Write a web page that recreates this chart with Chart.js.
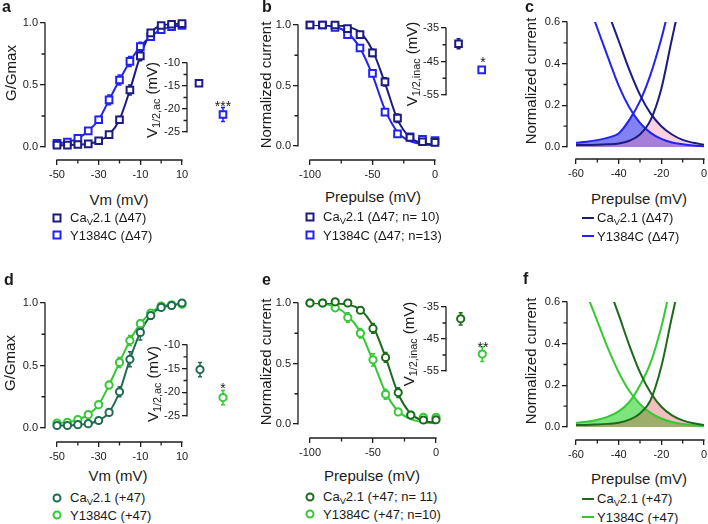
<!DOCTYPE html>
<html><head><meta charset="utf-8">
<script src="https://cdn.jsdelivr.net/npm/chart.js@4.4.1/dist/chart.umd.min.js"></script>
<style>
html,body{margin:0;padding:0;background:#fff;}
body{position:relative;width:708px;height:524px;overflow:hidden;font-family:"Liberation Sans",Arial,Helvetica,sans-serif;color:#1a1a1a;}
canvas{position:absolute;}
.tx{position:absolute;white-space:nowrap;line-height:1;transform:translate(-50%,-50%);z-index:5;font-size:15px;}
.rot{transform:translate(-50%,-50%) rotate(-90deg);}
.lab{position:absolute;white-space:nowrap;line-height:1;transform:translateY(-50%);font-size:13px;z-index:5;}
.sb{font-size:0.72em;position:relative;top:0.32em;}
.mk{position:absolute;transform:translate(-50%,-50%);box-sizing:border-box;z-index:5;background:#fff;}
.pl{position:absolute;font-weight:bold;font-size:16px;line-height:1;transform:translateY(-50%);z-index:5;}
.st{position:absolute;line-height:1;transform:translate(-50%,-50%);font-size:14px;z-index:5;}
</style></head><body>
<script>
// ================= DATA =================
// Activation (G/Gmax vs Vm)
const vmSteps = [-50,-45,-40,-35,-30,-25,-20,-15,-10,-5,0,5,10];
const actCavDelta   = [0.015,0.015,0.02,0.025,0.05,0.10,0.22,0.46,0.735,0.92,0.98,0.99,0.995];
const actCavDeltaErr= [0.01,0.01,0.01,0.01,0.01,0.015,0.025,0.04,0.04,0.02,0.01,0.01,0.01];
const actYDelta     = [0.03,0.04,0.07,0.13,0.22,0.38,0.54,0.69,0.81,0.89,0.946,0.97,0.98];
const actYDeltaErr  = [0.01,0.01,0.01,0.015,0.025,0.04,0.04,0.04,0.035,0.02,0.01,0.01,0.01];
const actCavPlus    = [0.02,0.02,0.027,0.035,0.06,0.125,0.29,0.55,0.765,0.90,0.965,0.98,1.0];
const actCavPlusErr = [0.01,0.01,0.01,0.01,0.01,0.015,0.04,0.06,0.06,0.03,0.01,0.01,0.01];
const actYPlus      = [0.04,0.045,0.067,0.107,0.187,0.344,0.525,0.70,0.835,0.92,0.975,0.985,0.99];
const actYPlusErr   = [0.01,0.01,0.01,0.015,0.02,0.03,0.04,0.04,0.03,0.02,0.01,0.01,0.01];

// Inactivation (normalized current vs prepulse)
const prepulseSteps = [-100,-90,-80,-70,-60,-50,-40,-30,-20,-10,0];
const inacCavDelta    = [1.0,1.0,1.0,0.97,0.92,0.77,0.53,0.23,0.07,0.035,0.03];
const inacCavDeltaErr = [0.01,0.01,0.01,0.015,0.02,0.03,0.035,0.035,0.02,0.01,0.01];
const inacCavDeltaFit = [1.0,1.0,0.997,0.985,0.94,0.79,0.52,0.22,0.07,0.025,0.012];
const inacYDelta      = [1.0,1.0,0.98,0.92,0.81,0.60,0.28,0.10,0.075,0.055,0.045];
const inacYDeltaErr   = [0.01,0.01,0.01,0.015,0.02,0.025,0.025,0.02,0.01,0.01,0.01];
const inacYDeltaFit   = [1.0,0.997,0.985,0.935,0.81,0.585,0.30,0.115,0.04,0.015,0.007];
const inacCavPlus     = [1.0,1.0,1.01,1.0,0.94,0.79,0.55,0.26,0.074,0.033,0.035];
const inacCavPlusErr  = [0.01,0.01,0.01,0.01,0.015,0.04,0.04,0.04,0.02,0.01,0.01];
const inacCavPlusFit  = [1.0,1.0,0.997,0.985,0.945,0.81,0.55,0.25,0.085,0.028,0.01];
const inacYPlus       = [1.0,1.0,0.96,0.88,0.75,0.53,0.245,0.10,0.074,0.055,0.055];
const inacYPlusErr    = [0.01,0.01,0.015,0.04,0.04,0.05,0.04,0.02,0.01,0.01,0.01];
const inacYPlusFit    = [1.0,0.993,0.968,0.895,0.76,0.52,0.26,0.105,0.04,0.015,0.006];

// Window-current curves (prepulse -60..0)
const windowSteps = [-60,-55,-50,-45,-40,-35,-30,-25,-20,-15,-10,-5,0];
const winActCavDelta  = [0.01,0.01,0.011,0.013,0.017,0.03,0.06,0.13,0.28,0.52,0.74,0.88,0.95];
const winInacCavDelta = [0.91,0.85,0.76,0.645,0.51,0.37,0.25,0.16,0.10,0.06,0.034,0.02,0.011];
const winActYDelta    = [0.02,0.025,0.033,0.045,0.065,0.13,0.22,0.35,0.52,0.72,0.86,0.93,0.97];
const winInacYDelta   = [0.81,0.705,0.57,0.43,0.295,0.19,0.116,0.068,0.039,0.022,0.013,0.007,0.004];
const overlapXCavDelta = [-60,-55,-50,-45,-40,-35,-30,-25,-24.3,-20,-15,-10,-5,0];
const overlapCavDelta  = [0.01,0.01,0.011,0.013,0.017,0.03,0.06,0.13,0.151,0.10,0.06,0.034,0.02,0.011];
const overlapXYDelta   = [-60,-55,-50,-45,-40,-35,-33.3,-30,-25,-20,-15,-10,-5,0];
const overlapYDelta    = [0.02,0.025,0.033,0.045,0.065,0.13,0.163,0.116,0.068,0.039,0.022,0.013,0.007,0.004];

const winActCavPlus   = [0.01,0.01,0.012,0.015,0.02,0.035,0.065,0.13,0.29,0.53,0.75,0.88,0.95];
const winInacCavPlus  = [0.927,0.874,0.793,0.679,0.539,0.392,0.262,0.164,0.097,0.056,0.032,0.018,0.01];
const winActYPlus     = [0.02,0.025,0.035,0.05,0.075,0.12,0.20,0.31,0.48,0.70,0.85,0.93,0.97];
const winInacYPlus    = [0.75,0.637,0.508,0.377,0.263,0.173,0.11,0.068,0.041,0.024,0.0145,0.0086,0.005];
const overlapXCavPlus = [-60,-55,-50,-45,-40,-35,-30,-25,-24.3,-20,-15,-10,-5,0];
const overlapCavPlus  = [0.01,0.01,0.012,0.015,0.02,0.035,0.065,0.13,0.153,0.097,0.056,0.032,0.018,0.01];
const overlapXYPlus   = [-60,-55,-50,-45,-40,-35,-33.2,-30,-25,-20,-15,-10,-5,0];
const overlapYPlus    = [0.02,0.025,0.035,0.05,0.075,0.12,0.15,0.11,0.068,0.041,0.024,0.0145,0.0086,0.005];

// Insets: V1/2 values (mV) [CaV2.1, Y1384C]
const insetGroups = [1, 2];
const v12ActDelta     = [-14.4, -21.2];
const v12ActDeltaErr  = [0.6, 1.5];
const v12InacDelta    = [-39.7, -47.5];
const v12InacDeltaErr = [1.5, 0.8];
const v12ActPlus      = [-15.2, -21.1];
const v12ActPlusErr   = [1.5, 1.5];
const v12InacPlus     = [-38.7, -49.7];
const v12InacPlusErr  = [1.9, 2.3];

// Tick values
const vmTicks = [-50,-30,-10,10], vmMinor = [-40,-20,0];
const preTicks = [-100,-50,0], preMinor = [-75,-25];
const winTicks = [-60,-40,-20,0], winMinor = [-50,-30,-10];
const unitTicks = [0,0.5,1.0], unitMinor = [0.25,0.75];
const winYTicks = [0,0.2,0.4,0.6], winYMinor = [0.1,0.3,0.5];
const v12ActTicks = [-25,-20,-15,-10], v12ActMinor = [-22.5,-17.5,-12.5];
const v12InacTicks = [-55,-45,-35], v12InacMinor = [-50,-40];

// ================= STYLE =================
const COL = {navy:'#1b1b80', blue:'#2222f2', teal:'#1f6b4e', dkgreen:'#1c6a1c', green:'#36c836', axis:'#1e1e1e'};
Chart.defaults.font.family = "'Liberation Sans', Arial, sans-serif";
Chart.defaults.color = '#1a1a1a';

const prismAxes = {
  id: 'prismAxes',
  beforeDatasetsDraw(chart, args, o) {
    const ctx = chart.ctx, a = chart.chartArea, xs = chart.scales.x, ys = chart.scales.y;
    ctx.save();
    ctx.strokeStyle = COL.axis; ctx.lineWidth = 1.3;
    ctx.beginPath();
    ctx.moveTo(a.left, ys.getPixelForValue(o.yLine[1]) - 0.6);
    ctx.lineTo(a.left, ys.getPixelForValue(o.yLine[0]) + 0.6);
    (o.yMinor||[]).forEach(v => { const y = ys.getPixelForValue(v); ctx.moveTo(a.left, y); ctx.lineTo(a.left - 3.5, y); });
    if (o.xLine) {
      ctx.moveTo(xs.getPixelForValue(o.xLine[0]) - 0.6, a.bottom);
      ctx.lineTo(xs.getPixelForValue(o.xLine[1]) + 0.6, a.bottom);
      (o.xMinor||[]).forEach(v => { const x = xs.getPixelForValue(v); ctx.moveTo(x, a.bottom); ctx.lineTo(x, a.bottom + 3.5); });
    }
    ctx.stroke();
    ctx.restore();
  }
};
const errBars = {
  id: 'errBars',
  beforeDatasetsDraw(chart) {
    const ctx = chart.ctx, xs = chart.scales.x, ys = chart.scales.y;
    chart.data.datasets.forEach(ds => {
      if (!ds.errors) return;
      ctx.save(); ctx.strokeStyle = ds.borderColor; ctx.lineWidth = 1.5;
      ctx.beginPath();
      ds.data.forEach((p, j) => {
        const e = ds.errors[j]; if (!e) return;
        const x = xs.getPixelForValue(p.x), y1 = ys.getPixelForValue(p.y - e), y2 = ys.getPixelForValue(p.y + e);
        ctx.moveTo(x, y1); ctx.lineTo(x, y2);
        ctx.moveTo(x - 2, y1); ctx.lineTo(x + 2, y1);
        ctx.moveTo(x - 2, y2); ctx.lineTo(x + 2, y2);
      });
      ctx.stroke(); ctx.restore();
    });
  }
};

const xy = (xa, ya) => xa.map((x, i) => ({x, y: ya[i]}));
function pts(xa, ya, err, color, style) {
  return {data: xy(xa, ya), errors: err, showLine: false, pointStyle: style,
    pointRadius: style === 'rect' ? 4.7 : 3.6, pointBorderWidth: 2, pointBackgroundColor: '#fff',
    pointBorderColor: color, borderColor: color, clip: false, order: 0};
}
function curve(xa, ya, color) {
  return {data: xy(xa, ya), borderColor: color, borderWidth: 2, pointRadius: 0,
    cubicInterpolationMode: 'monotone', fill: false, order: 1};
}
function area(xa, ya, color, order) {
  return {data: xy(xa, ya), borderWidth: 0, borderColor: 'rgba(0,0,0,0)', backgroundColor: color,
    pointRadius: 0, cubicInterpolationMode: 'monotone', fill: 'origin', order};
}

function build(s) {
  const b = s.box, A = s.area;
  const cv = document.createElement('canvas');
  cv.width = b.w; cv.height = b.h;
  Object.assign(cv.style, {left: b.l + 'px', top: b.t + 'px', width: b.w + 'px', height: b.h + 'px'});
  document.body.appendChild(cv);
  const X = s.x, Y = s.y;
  const xPer = (X.p1 - X.p0) / (X.v1 - X.v0);
  const xmin = X.v0 - (X.p0 - A.L) / xPer, xmax = X.v1 + (A.R - X.p1) / xPer;
  const yPer = (Y.p0 - Y.p1) / (Y.v1 - Y.v0);
  const ymin = Y.v0 - (A.B - Y.p0) / yPer, ymax = Y.v1 + (Y.p1 - A.T) / yPer;
  const tickFont = {size: 11};
  const gridOpt = {drawOnChartArea: false, drawTicks: true, tickLength: 5, color: COL.axis, lineWidth: 1.3};
  new Chart(cv, {
    type: 'line',
    data: {datasets: s.datasets},
    plugins: [prismAxes, errBars],
    options: {
      responsive: false, animation: false, devicePixelRatio: 1,
      events: [],
      layout: {padding: {left: 0, top: A.T - b.t, right: b.l + b.w - A.R, bottom: X.display ? 0 : b.t + b.h - A.B}},
      plugins: {legend: {display: false}, tooltip: {enabled: false},
        prismAxes: {yLine: Y.line, yMinor: Y.minor, xLine: X.display ? X.line : null, xMinor: X.minor}},
      scales: {
        x: {type: 'linear', min: xmin, max: xmax, display: X.display,
          afterBuildTicks: sc => { if (X.ticks) sc.ticks = X.ticks.map(v => ({value: v})); },
          afterFit: sc => { sc.height = b.t + b.h - A.B; sc.paddingLeft = 0; sc.paddingRight = 0; },
          grid: gridOpt, border: {display: false},
          ticks: {font: tickFont, color: '#1a1a1a', padding: 3, maxRotation: 0, autoSkip: false, callback: v => String(v)}},
        y: {type: 'linear', min: ymin, max: ymax,
          afterBuildTicks: sc => { sc.ticks = Y.ticks.map(v => ({value: v})); },
          afterFit: sc => { sc.width = A.L - b.l; sc.paddingTop = 0; sc.paddingBottom = 0; },
          grid: gridOpt, border: {display: false},
          ticks: {font: tickFont, color: '#1a1a1a', padding: 2, autoSkip: false, callback: Y.fmt}}
      }
    }
  });
}
const f1 = v => v.toFixed(1), f0 = v => String(v);

// ---- main panels ----
build({box:{l:0,t:0,w:200,h:185}, area:{L:45,T:23,R:182,B:160},
  x:{display:true,v0:-50,p0:57,v1:10,p1:182,ticks:vmTicks,minor:vmMinor,line:[-50,10]},
  y:{v0:0,p0:147,v1:1,p1:23,ticks:unitTicks,minor:unitMinor,line:[0,1],fmt:f1},
  datasets:[pts(vmSteps,actCavDelta,actCavDeltaErr,COL.navy,'rect'), pts(vmSteps,actYDelta,actYDeltaErr,COL.blue,'rect'),
    curve(vmSteps,actCavDelta,COL.navy), curve(vmSteps,actYDelta,COL.blue)]});
build({box:{l:240,t:0,w:215,h:185}, area:{L:298,T:25,R:435,B:160},
  x:{display:true,v0:-100,p0:310,v1:0,p1:435,ticks:preTicks,minor:preMinor,line:[-100,0]},
  y:{v0:0,p0:146,v1:1,p1:25,ticks:unitTicks,minor:unitMinor,line:[0,1],fmt:f1},
  datasets:[pts(prepulseSteps,inacCavDelta,inacCavDeltaErr,COL.navy,'rect'), pts(prepulseSteps,inacYDelta,inacYDeltaErr,COL.blue,'rect'),
    curve(prepulseSteps,inacCavDeltaFit,COL.navy), curve(prepulseSteps,inacYDeltaFit,COL.blue)]});
build({box:{l:500,t:0,w:208,h:185}, area:{L:567,T:22,R:704,B:159},
  x:{display:true,v0:-60,p0:576,v1:0,p1:704,ticks:winTicks,minor:winMinor,line:[-60,0]},
  y:{v0:0,p0:147,v1:0.6,p1:22,ticks:winYTicks,minor:winYMinor,line:[0,0.6],fmt:f1},
  datasets:[curve(windowSteps,winActCavDelta,COL.navy), curve(windowSteps,winInacCavDelta,COL.navy),
    curve(windowSteps,winActYDelta,COL.blue), curve(windowSteps,winInacYDelta,COL.blue),
    area(overlapXCavDelta,overlapCavDelta,'rgba(235,120,170,0.35)',5), area(overlapXYDelta,overlapYDelta,'rgba(40,40,235,0.58)',6)]});
build({box:{l:0,t:280,w:200,h:185}, area:{L:45,T:303,R:182,B:442},
  x:{display:true,v0:-50,p0:57,v1:10,p1:182,ticks:vmTicks,minor:vmMinor,line:[-50,10]},
  y:{v0:0,p0:428,v1:1,p1:303,ticks:unitTicks,minor:unitMinor,line:[0,1],fmt:f1},
  datasets:[pts(vmSteps,actCavPlus,actCavPlusErr,COL.teal,'circle'), pts(vmSteps,actYPlus,actYPlusErr,COL.green,'circle'),
    curve(vmSteps,actCavPlus,COL.teal), curve(vmSteps,actYPlus,COL.green)]});
build({box:{l:240,t:280,w:215,h:185}, area:{L:298,T:303,R:436,B:438},
  x:{display:true,v0:-100,p0:310,v1:0,p1:436,ticks:preTicks,minor:preMinor,line:[-100,0]},
  y:{v0:0,p0:424,v1:1,p1:303,ticks:unitTicks,minor:unitMinor,line:[0,1],fmt:f1},
  datasets:[pts(prepulseSteps,inacCavPlus,inacCavPlusErr,COL.dkgreen,'circle'), pts(prepulseSteps,inacYPlus,inacYPlusErr,COL.green,'circle'),
    curve(prepulseSteps,inacCavPlusFit,COL.dkgreen), curve(prepulseSteps,inacYPlusFit,COL.green)]});
build({box:{l:500,t:280,w:208,h:185}, area:{L:567,T:302,R:704,B:440},
  x:{display:true,v0:-60,p0:576,v1:0,p1:704,ticks:winTicks,minor:winMinor,line:[-60,0]},
  y:{v0:0,p0:427,v1:0.6,p1:302,ticks:winYTicks,minor:winYMinor,line:[0,0.6],fmt:f1},
  datasets:[curve(windowSteps,winActCavPlus,COL.dkgreen), curve(windowSteps,winInacCavPlus,COL.dkgreen),
    curve(windowSteps,winActYPlus,COL.green), curve(windowSteps,winInacYPlus,COL.green),
    area(overlapXCavPlus,overlapCavPlus,'rgba(220,70,70,0.35)',5), area(overlapXYPlus,overlapYPlus,'rgba(40,210,40,0.6)',6)]});

// ---- insets ----
build({box:{l:140,t:50,w:110,h:100}, area:{L:187,T:63,R:235,B:141},
  x:{display:false,v0:1,p0:199,v1:2,p1:223},
  y:{v0:-25,p0:141,v1:-10,p1:63,ticks:v12ActTicks,minor:v12ActMinor,line:[-25,-10],fmt:f0},
  datasets:[pts([insetGroups[0]],[v12ActDelta[0]],[v12ActDeltaErr[0]],COL.navy,'rect'), pts([insetGroups[1]],[v12ActDelta[1]],[v12ActDeltaErr[1]],COL.blue,'rect')]});
build({box:{l:400,t:15,w:100,h:100}, area:{L:446,T:28,R:495,B:105},
  x:{display:false,v0:1,p0:459,v1:2,p1:483},
  y:{v0:-55,p0:105,v1:-35,p1:28,ticks:v12InacTicks,minor:v12InacMinor,line:[-55,-35],fmt:f0},
  datasets:[pts([insetGroups[0]],[v12InacDelta[0]],[v12InacDeltaErr[0]],COL.navy,'rect'), pts([insetGroups[1]],[v12InacDelta[1]],[v12InacDeltaErr[1]],COL.blue,'rect')]});
build({box:{l:140,t:330,w:110,h:100}, area:{L:187,T:345,R:235,B:423},
  x:{display:false,v0:1,p0:200,v1:2,p1:223},
  y:{v0:-25,p0:423,v1:-10,p1:345,ticks:v12ActTicks,minor:v12ActMinor,line:[-25,-10],fmt:f0},
  datasets:[pts([insetGroups[0]],[v12ActPlus[0]],[v12ActPlusErr[0]],COL.teal,'circle'), pts([insetGroups[1]],[v12ActPlus[1]],[v12ActPlusErr[1]],COL.green,'circle')]});
build({box:{l:400,t:295,w:100,h:100}, area:{L:446,T:307,R:495,B:383},
  x:{display:false,v0:1,p0:461,v1:2,p1:483},
  y:{v0:-55,p0:383,v1:-35,p1:307,ticks:v12InacTicks,minor:v12InacMinor,line:[-55,-35],fmt:f0},
  datasets:[pts([insetGroups[0]],[v12InacPlus[0]],[v12InacPlusErr[0]],COL.dkgreen,'circle'), pts([insetGroups[1]],[v12InacPlus[1]],[v12InacPlusErr[1]],COL.green,'circle')]});

// ================= TEXT =================
function el(cls, html, css) { const d = document.createElement('div'); d.className = cls; d.innerHTML = html; Object.assign(d.style, css); document.body.appendChild(d); return d; }
const P = v => v + 'px';
// panel letters
[['a',2,6.5],['b',262,6.5],['c',525,6.5],['d',4,279.5],['e',262,279.5],['f',523,278.5]].forEach(([t,x,y]) => el('pl', t, {left:P(x), top:P(y)}));
// axis titles
[['Vm (mV)',119,199],['Prepulse (mV)',373,196],['Prepulse (mV)',639,198],['Vm (mV)',118,475],['Prepulse (mV)',372,475],['Prepulse (mV)',639,478]]
  .forEach(([t,x,y]) => el('tx', t, {left:P(x), top:P(y)}));
[['G/Gmax',10,73],['Normalized current',265,85],['Normalized current',530,81],['G/Gmax',9,363],['Normalized current',265,362],['Normalized current',530,361]]
  .forEach(([t,x,y]) => el('tx rot', t, {left:P(x), top:P(y)}));
// inset titles
[['ac',151,100],['inac',411,64],['ac',152,384],['inac',408,344]]
  .forEach(([s,x,y]) => el('tx rot', 'V<span class="sb">1/2,' + s + '</span> (mV)', {left:P(x), top:P(y)}));
// significance
[['***',223,106],['*',483,62],['*',223,388],['**',483,347]].forEach(([t,x,y]) => el('st', t, {left:P(x), top:P(y)}));
// legends
const CAV = 'Ca<span class="sb">V</span>2.1';
const legendRows = [
  {mx:57, tx:70, y:218, kind:'sq', color:COL.navy, text:CAV + ' (Δ47)'},
  {mx:57, tx:70, y:235, kind:'sq', color:COL.blue, text:'Y1384C (Δ47)'},
  {mx:310, tx:323, y:217, kind:'sq', color:COL.navy, text:CAV + ' (Δ47; n= 10)'},
  {mx:310, tx:323, y:235, kind:'sq', color:COL.blue, text:'Y1384C (Δ47; n=13)'},
  {mx:588, tx:597, y:218, kind:'ln', color:COL.navy, text:CAV + ' (Δ47)'},
  {mx:588, tx:597, y:236, kind:'ln', color:COL.blue, text:'Y1384C (Δ47)'},
  {mx:57, tx:70, y:498, kind:'ci', color:COL.teal, text:CAV + ' (+47)'},
  {mx:57, tx:70, y:515, kind:'ci', color:COL.green, text:'Y1384C (+47)'},
  {mx:310, tx:323, y:497, kind:'ci', color:COL.dkgreen, text:CAV + ' (+47; n= 11)'},
  {mx:310, tx:323, y:514, kind:'ci', color:COL.green, text:'Y1384C (+47; n=10)'},
  {mx:588, tx:597, y:499, kind:'ln', color:COL.dkgreen, text:CAV + ' (+47)'},
  {mx:588, tx:597, y:517, kind:'ln', color:COL.green, text:'Y1384C (+47)'}
];
legendRows.forEach(r => {
  const css = {left:P(r.mx), top:P(r.y)};
  if (r.kind === 'ln') Object.assign(css, {width:'12px', height:'2px', background:r.color});
  else Object.assign(css, {width:'9px', height:'9px', border:'2px solid ' + r.color, borderRadius: r.kind === 'ci' ? '50%' : '0'});
  el('mk', '', css);
  el('lab', r.text, {left:P(r.tx), top:P(r.y)});
});
</script>
</body></html>
